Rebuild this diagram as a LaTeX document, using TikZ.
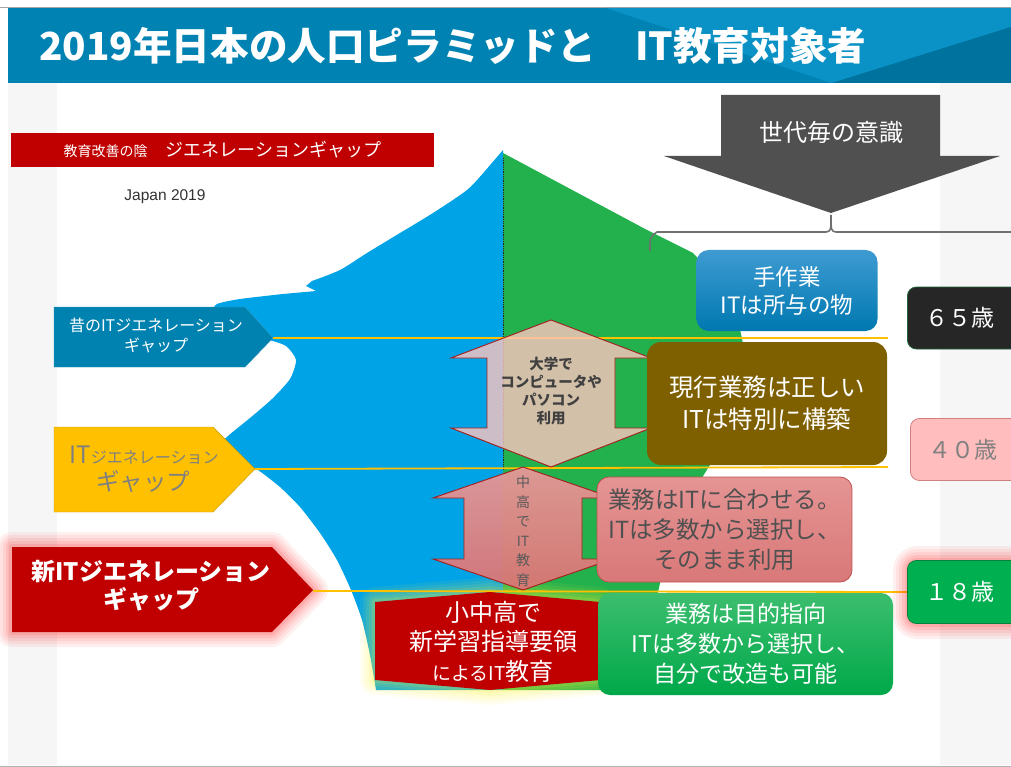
\documentclass[tikz,border=0pt]{standalone}
\usepackage{fontspec}
\setmainfont{Noto Sans CJK JP}
\newfontfamily\arialfont{Liberation Sans}
\usetikzlibrary{calc}
\definecolor{titleblue}{HTML}{0083B3}
\definecolor{titlelight}{HTML}{0A92C6}
\definecolor{titledark}{HTML}{00729E}
\definecolor{bggray}{HTML}{F6F6F6}
\definecolor{pyrblue}{HTML}{00A3E6}
\definecolor{pyrgreen}{HTML}{22B14C}
\definecolor{gold}{HTML}{FFC000}
\definecolor{darkred}{HTML}{C00000}
\definecolor{arrowgray}{HTML}{505050}
\definecolor{bracegray}{HTML}{707070}
\definecolor{brownbox}{HTML}{7F6000}
\definecolor{age40}{HTML}{FFBDBD}
\definecolor{age40border}{HTML}{D08080}
\definecolor{agegreen}{HTML}{00B050}
\definecolor{oldblue}{HTML}{0082B0}
\definecolor{beige}{RGB}{255,196,191}
\definecolor{arrowborder}{RGB}{165,30,30}
\definecolor{textgray}{HTML}{505050}
\newcommand\fsz[2]{\fontsize{#1}{#2}\selectfont}
\newcommand\glowit[2]{\foreach \w/\o in {30/0.07,24/0.08,18/0.09,12/0.11,6/0.14}{\draw[#1, line width=\w pt, opacity=\o, line join=round] #2;}}
\begin{document}
\begin{tikzpicture}[x=1pt,y=-1pt,
  roundbox/.style={rectangle, rounded corners=12pt, align=center, inner sep=0pt, line width=0.8pt},
  labeltext/.style={align=center, inner sep=0pt},
  yline/.style={gold, line width=1.8pt},
  dblarrow/.style={draw=arrowborder, line width=0.9pt, line join=miter}
]
\useasboundingbox (0,0) rectangle (1011,767);
\fill[white] (0,0) rectangle (1011,767);
% background
\fill[bggray] (8,83) rectangle (1011,765);
\fill[white] (57,83) rectangle (940,765);
\draw[black!30, line width=1pt] (0,766) -- (1011,766);
% title bar
\draw[black!35, line width=1pt] (0,7.5) -- (1011,7.5);
\fill[titleblue] (8,8) rectangle (1011,83);
\fill[titlelight] (606,8) -- (1011,8) -- (1011,27) -- (832,83) -- cycle;
\fill[titledark] (832,83) -- (1011,27) -- (1011,83) -- cycle;
\node[anchor=west, text=white, font=\bfseries\fsz{38.6}{42}, inner sep=0pt] (title) at (39,46) {2019年日本の人口ピラミッドと　IT教育対象者};

% red banner
\node[rectangle, fill=darkred, minimum width=423pt, minimum height=34pt, inner sep=0pt] (banner) at (222.5,150) {};
\node[labeltext, text=white] (bannertext) at (banner.center) {\fsz{14}{16}教育改善の陰\hspace{18pt}\fsz{18}{20}ジエネレーションギャップ};
\node[labeltext, text=black!80, font=\arialfont\fsz{15.5}{17}] (japan) at (165,197) {Japan 2019};

% pyramid
\fill[pyrblue] (503,150) -- plot[smooth, tension=0.45] coordinates {(485,171) (467,190) (433,213) (400,233) (367,253) (340,270) (312,281)} -- (306,286) -- (316,291) -- plot[smooth, tension=0.4] coordinates {(283,294) (240,299) (217,304) (214,312) (232,330) (266,339) (286,346) (296,360) (290,379) (272,399) (250,418) (228,436) (222,445) (240,460) (258,470) (280,487) (300,507) (320,533) (337,560) (351,590) (362,620) (370,655) (376,690)} -- (503,690) -- cycle;
\fill[pyrgreen] (503,153) -- (647,230) -- plot[smooth, tension=0.5] coordinates {(693,253) (720,285) (740,330) (746,380) (735,430) (712,462) (695,490) (675,530) (662,575) (652,620) (643,660) (635,690)} -- (503,690) -- cycle;
\draw[black!85, densely dotted, line width=0.8pt] (503,158) -- (503,470);

% yellow glow around the new-curriculum block
\glowit{yellow!80}{(375,602) -- (490,592) -- (600,602) -- (600,680) -- (490,690) -- (375,680) -- cycle}

% brace and big arrow
\draw[bracegray, line width=1.6pt] (650,251) .. controls (650,237) .. (657,232) -- (826,232) .. controls (831,231) .. (831,215) .. controls (831,231) .. (836,232) -- (1011,232);
\fill[arrowgray] (721,95) -- (940,95) -- (940,156) -- (1000,156) -- (831,213) -- (664,156) -- (721,156) -- cycle;
\node[labeltext, text=white, font=\fsz{24}{28}] (ishiki) at (831,132) {世代毎の意識};

% connector coordinates
\coordinate (l1e) at (888,338);
\coordinate (l2e) at (888,467);
\coordinate (l3e) at (908,592);

% left labels (pentagon arrows)
\glowit{red!80}{(12,547) -- (272,547) -- (313,590) -- (272,632) -- (12,632) -- cycle}
\fill[oldblue, draw=oldblue!80!white] (54,307) -- (245,307) -- (273,338) -- (245,367) -- (54,367) -- cycle;
\coordinate (oldtip) at (273,338);
\node[labeltext, text=white, font=\fsz{16}{20}] (oldgap) at (156,335) {昔のITジエネレーション\\ギャップ};
\fill[gold, draw=gold!80!black] (54,427) -- (213,427) -- (255,469) -- (213,512) -- (54,512) -- cycle;
\coordinate (ittip) at (255,469);
\node[labeltext, text=black!50] (itgap) at (144,455) {\fsz{24}{28}IT\fsz{16}{28}ジエネレーション};
\node[labeltext, text=black!50, font=\fsz{23.5}{28}] (itgap2) at (143,482) {ギャップ};
\fill[darkred] (12,547) -- (272,547) -- (313,590) -- (272,632) -- (12,632) -- cycle;
\coordinate (newtip) at (313,591);
\node[labeltext, text=white, font=\bfseries\fsz{24}{28}] (newgap) at (151,586) {新ITジエネレーション\\ギャップ};

% yellow connector lines
\draw[yline] (oldtip) -- (l1e);
\draw[yline] (ittip) -- (l2e);
\draw[yline] (newtip) -- (l3e);

% double arrows
\path[dblarrow, fill=beige, fill opacity=0.8] (551,320) -- (651,358) -- (615,358) -- (615,428) -- (651,428) -- (551,467) -- (451,428) -- (487,428) -- (487,358) -- (451,358) -- cycle;
\node[labeltext, text=black!75, font=\bfseries\fsz{14.5}{18}] (univ) at (551,391) {大学で\\コンピュータや\\パソコン\\利用};
\path[dblarrow, top color={rgb,255:red,230;green,152;blue,152}, bottom color={rgb,255:red,220;green,116;blue,116}, fill opacity=0.95] (523,467) -- (613,498) -- (582,498) -- (582,559) -- (613,559) -- (523,590) -- (433,559) -- (464,559) -- (464,498) -- (433,498) -- cycle;
\node[labeltext, text=black!65, font=\fsz{14}{19.5}] (chuko) at (523,531) {中\\高\\で\\IT\\教\\育};

% red hexagon
\fill[darkred] (375,602) -- (490,592) -- (600,602) -- (600,680) -- (490,690) -- (375,680) -- cycle;
\node[labeltext, text=white, font=\fsz{24}{28}] (shin1) at (493,612) {小中高で};
\node[labeltext, text=white, font=\fsz{24}{28}] (shin2) at (493,641) {新学習指導要領};
\node[labeltext, text=white] (shin3) at (493,671) {\fsz{19}{28}によるIT\fsz{24}{28}教育};

% right-hand boxes
\node[roundbox, top color={rgb,255:red,62;green,155;blue,210}, bottom color={rgb,255:red,0;green,120;blue,176}, minimum width=181pt, minimum height=81pt, text=white, font=\fsz{22.5}{28}] (tesagyo) at (787,290.5) {手作業\\ITは所与の物};
\node[roundbox, fill=brownbox, rounded corners=14pt, minimum width=240pt, minimum height=123pt, text=white, font=\fsz{24.5}{32}] (genko) at (767,403.5) {現行業務は正しい\\ITは特別に構築};
\node[roundbox, draw={rgb,255:red,190;green,80;blue,80}, top color={rgb,255:red,229;green,148;blue,148}, bottom color={rgb,255:red,217;green,120;blue,120}, minimum width=255pt, minimum height=105pt, text=textgray, font=\fsz{23.5}{30}] (awaseru) at (724.5,529.5) {業務はITに合わせる。\\ITは多数から選択し、\\そのまま利用};
\node[roundbox, top color={rgb,255:red,60;green,190;blue,110}, bottom color={rgb,255:red,0;green,168;blue,74}, minimum width=295pt, minimum height=102pt, text=white, font=\fsz{23}{30}] (mokuteki) at (745.5,644) {業務は目的指向\\ITは多数から選択し、\\自分で改造も可能};

% age boxes
\glowit{red!80}{[rounded corners=9pt] (908,561) rectangle (1030,624)}
\node[roundbox, rounded corners=9pt, fill=black!85, draw={rgb,255:red,30;green,100;blue,55}, minimum width=124pt, minimum height=62pt, anchor=west, text=white, font=\fsz{23}{26}] (age65) at (907,318) {\hspace{-6pt}６５歳\hspace{12pt}};
\node[roundbox, rounded corners=9pt, fill=age40, draw=age40border, minimum width=124pt, minimum height=62pt, anchor=west, text=black!50, font=\fsz{23}{26}] (age40) at (910,449.5) {\hspace{-6pt}４０歳\hspace{12pt}};
\node[roundbox, rounded corners=9pt, fill=agegreen, draw={rgb,255:red,0;green,130;blue,60}, minimum width=124pt, minimum height=63pt, anchor=west, text=white, font=\fsz{23}{26}] (age18) at (907,592) {\hspace{-6pt}１８歳\hspace{12pt}};
\end{tikzpicture}
\end{document}
